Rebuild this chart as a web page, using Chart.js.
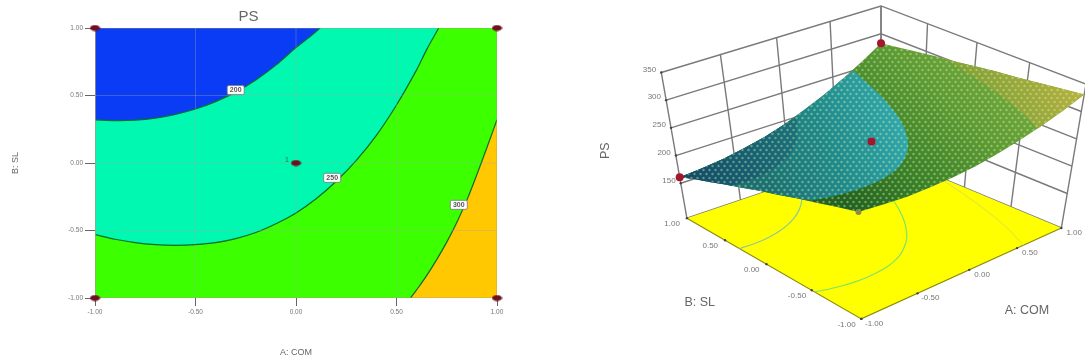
<!DOCTYPE html>
<html>
<head>
<meta charset="utf-8">
<title>PS</title>
<script src="https://cdn.jsdelivr.net/npm/chart.js@4/dist/chart.umd.min.js"></script>
<style>
  html, body { margin: 0; background: #fff; overflow: hidden; }
  canvas { position: absolute; top: 0; filter: blur(0.7px); }
  #contour { left: 0; }
  #surface { left: 540px; }
</style>
</head>
<body>
<canvas id="contour" width="540" height="363"></canvas>
<canvas id="surface" width="549" height="363"></canvas>
<script>
// contour lines (A: COM, B: SL)
const contour200A = [-1, -0.9, -0.8, -0.7, -0.6, -0.5, -0.4, -0.3, -0.2, -0.1, 0, 0.06, 0.12]
const contour200B = [0.32, 0.314, 0.317, 0.332, 0.36, 0.4, 0.455, 0.525, 0.615, 0.725, 0.855, 0.925, 1]
const contour250A = [-1, -0.9, -0.8, -0.7, -0.6, -0.5, -0.4, -0.3, -0.2, -0.1, 0, 0.1, 0.2, 0.3, 0.4, 0.5, 0.6, 0.65, 0.71]
const contour250B = [-0.53, -0.565, -0.59, -0.605, -0.61, -0.605, -0.59, -0.56, -0.515, -0.45, -0.37, -0.265, -0.135, 0.02, 0.205, 0.43, 0.69, 0.84, 1]
const contour300A = [0.57, 0.6, 0.65, 0.7, 0.75, 0.8, 0.85, 0.9, 0.95, 1]
const contour300B = [-1, -0.94, -0.834, -0.716, -0.586, -0.44, -0.275, -0.085, 0.115, 0.32]

const contourLabels = ['200', '250', '300']
const contourLabelA = [-0.3, 0.18, 0.81]
const contourLabelB = [0.54, -0.11, -0.31]

const designA = [-1, 1, -1, 1, 0]
const designB = [1, 1, -1, -1, 0]
const designPS = [161, 283, 276, 331, 235]

const axisTicks = [-1, -0.5, 0, 0.5, 1]
const psTicks = [150, 200, 250, 300, 350]

// PS surface, one row per B: SL value, one column per A: COM value
const gridA = [-1, -0.8, -0.6, -0.4, -0.2, 0, 0.2, 0.4, 0.6, 0.8, 1]
const gridB = [1, 0.8, 0.6, 0.4, 0.2, 0, -0.2, -0.4, -0.6, -0.8, -1]
const gridPS = [
    [161, 164, 168, 175, 183, 194, 208, 223, 241, 261, 283],
    [173, 174, 178, 184, 192, 203, 215, 230, 247, 267, 288],
    [184, 185, 188, 193, 201, 211, 223, 237, 253, 272, 293],
    [196, 196, 198, 203, 210, 219, 230, 244, 259, 277, 298],
    [207, 207, 209, 212, 218, 227, 237, 250, 265, 283, 302],
    [219, 218, 219, 222, 227, 235, 245, 257, 271, 288, 307],
    [230, 228, 229, 231, 236, 243, 252, 264, 278, 293, 312],
    [242, 239, 239, 241, 245, 251, 260, 271, 284, 299, 316],
    [253, 250, 249, 250, 254, 259, 267, 277, 290, 304, 321],
    [265, 261, 259, 260, 262, 267, 275, 284, 296, 310, 326],
    [276, 272, 269, 269, 271, 275, 282, 291, 302, 315, 331]
]

const toXY = (xs, ys) => xs.map((x, i) => ({x: x, y: ys[i]}))
const format2 = v => v.toFixed(2)

// ---------- left chart ----------

const polygon = (points, color, order) => ({
    data: points, showLine: true, fill: 'shape', backgroundColor: color,
    borderWidth: 0, pointRadius: 0, tension: 0, order: order
})
const contourLine = (xs, ys) => ({
    data: toXY(xs, ys), showLine: true, borderColor: '#0c6a32', borderWidth: 1.2,
    pointRadius: 0, tension: 0.3, order: 2
})
// grid lines as datasets so they sit over the colour bands but under the points
const gridLine = points => ({
    data: points, showLine: true, borderColor: 'rgba(160,170,160,0.35)',
    borderWidth: 1, pointRadius: 0, tension: 0, order: 1
})

const plotBox = [{x: -1, y: -1}, {x: 1, y: -1}, {x: 1, y: 1}, {x: -1, y: 1}]
const contour250Pts = toXY(contour250A, contour250B)
const contour200Pts = toXY(contour200A, contour200B)
const contour300Pts = toXY(contour300A, contour300B)

// design points look like flat ovals in the picture
const ovalPoint = document.createElement('canvas')
ovalPoint.width = 11; ovalPoint.height = 7
const ovalCtx = ovalPoint.getContext('2d')
ovalCtx.fillStyle = '#6e1020'
ovalCtx.beginPath()
ovalCtx.ellipse(5.5, 3.5, 5, 3, 0, 0, Math.PI * 2)
ovalCtx.fill()

const contourBoxes = {
    id: 'contourBoxes',
    afterDatasetsDraw(chart) {
        const ctx = chart.ctx
        const xs = chart.scales.x, ys = chart.scales.y
        ctx.save()
        ctx.font = 'bold 7px "Liberation Sans"'
        ctx.textAlign = 'center'
        ctx.textBaseline = 'middle'
        contourLabels.forEach((t, i) => {
            const px = xs.getPixelForValue(contourLabelA[i])
            const py = ys.getPixelForValue(contourLabelB[i])
            ctx.fillStyle = '#fff'
            ctx.strokeStyle = '#777'
            ctx.lineWidth = 0.8
            ctx.beginPath()
            ctx.roundRect(px - 8.5, py - 4.5, 17, 9, 1.5)
            ctx.fill()
            ctx.stroke()
            ctx.fillStyle = '#555'
            ctx.fillText(t, px, py)
        })
        ctx.fillStyle = '#2a6a3a'
        ctx.font = '7px "Liberation Sans"'
        ctx.fillText('1', xs.getPixelForValue(0) - 9, ys.getPixelForValue(0) - 3)
        ctx.restore()
    }
}

new Chart(document.getElementById('contour'), {
    type: 'scatter',
    data: {
        datasets: [
            {data: toXY(designA, designB), pointStyle: ovalPoint, clip: false, order: 0},
            {data: [...plotBox, plotBox[0]], showLine: true, borderColor: 'rgba(170,160,120,0.7)',
             borderWidth: 1, pointRadius: 0, tension: 0, order: 1},
            ...axisTicks.slice(1, 4).map(v => gridLine([{x: v, y: -1}, {x: v, y: 1}])),
            ...axisTicks.slice(1, 4).map(v => gridLine([{x: -1, y: v}, {x: 1, y: v}])),
            contourLine(contour200A, contour200B),
            contourLine(contour250A, contour250B),
            contourLine(contour300A, contour300B),
            polygon([...contour200Pts, {x: -1, y: 1}], '#0a3cf5', 3),
            polygon([...contour250Pts, {x: -1, y: 1}], '#00f8b0', 4),
            polygon([...contour300Pts, {x: 1, y: -1}], '#ffc800', 5),
            polygon(plotBox, '#3cff00', 6)
        ]
    },
    options: {
        responsive: false,
        animation: false,
        devicePixelRatio: 1,
        layout: {padding: {right: 43}},
        scales: {
            x: {
                min: -1, max: 1,
                afterFit: s => { s.height = 65 },
                afterBuildTicks: s => { s.ticks = axisTicks.map(v => ({value: v})) },
                ticks: {callback: format2, color: '#777', font: {size: 6.5, family: 'Liberation Sans'}, maxRotation: 0, padding: 2},
                grid: {drawOnChartArea: false, tickColor: '#666', tickLength: 8},
                border: {display: false},
                title: {display: true, text: 'A: COM', color: '#666', font: {size: 9, family: 'Liberation Sans'}, padding: {bottom: 5}}
            },
            y: {
                min: -1, max: 1,
                afterFit: s => { s.width = 95 },
                afterBuildTicks: s => { s.ticks = axisTicks.map(v => ({value: v})) },
                ticks: {callback: format2, color: '#777', font: {size: 6.5, family: 'Liberation Sans'}, padding: 2},
                grid: {drawOnChartArea: false, tickColor: '#666', tickLength: 10},
                border: {display: false},
                title: {display: true, text: 'B: SL', color: '#666', font: {size: 9, family: 'Liberation Sans'}, padding: {top: 10}}
            }
        },
        plugins: {
            legend: {display: false},
            tooltip: {enabled: false},
            title: {display: true, text: 'PS', color: '#666', font: {size: 15, weight: 'normal', family: 'Liberation Sans'}, padding: {top: 8, bottom: 2}}
        }
    },
    plugins: [contourBoxes]
})

// ---------- right chart: 3D view projected onto a page-sized scale ----------

const floorZ = 87
const topZ = 350
const quadMap = q => {
    const [x0, y0] = q[0], [x1, y1] = q[1], [x2, y2] = q[2], [x3, y3] = q[3]
    const dx1 = x1 - x2, dx2 = x3 - x2, sx = x0 - x1 + x2 - x3
    const dy1 = y1 - y2, dy2 = y3 - y2, sy = y0 - y1 + y2 - y3
    const det = dx1 * dy2 - dx2 * dy1
    const g = (sx * dy2 - dx2 * sy) / det, h = (dx1 * sy - sx * dy1) / det
    const a = x1 - x0 + g * x1, b = x3 - x0 + h * x3
    const d = y1 - y0 + g * y1, e = y3 - y0 + h * y3
    return (u, v) => {
        const w = g * u + h * v + 1
        return [(a * u + b * v + x0) / w, (d * u + e * v + y0) / w]
    }
}
// corners in order: A-1 B-1, A+1 B-1, A+1 B+1, A-1 B+1
const floorMap = quadMap([[862, 322], [1065, 229], [882, 152], [685, 219]])
const roofMap = quadMap([[858, 170], [1090, 82], [882, 2], [659, 70]])
const project = (a, b, z) => {
    const u = (a + 1) / 2, v = (b + 1) / 2, t = (z - floorZ) / (topZ - floorZ)
    const f = floorMap(u, v), r = roofMap(u, v)
    return {x: f[0] + (r[0] - f[0]) * t, y: f[1] + (r[1] - f[1]) * t}
}

const path3d = (triples, color, width, tension) => ({
    data: triples.map(p => project(p[0], p[1], p[2])), showLine: true,
    borderColor: color, borderWidth: width, pointRadius: 0, tension: tension || 0
})
const fill3d = (triples, color) => ({
    data: triples.map(p => project(p[0], p[1], p[2])), showLine: true, fill: 'shape',
    backgroundColor: color, borderWidth: 0, pointRadius: 0, tension: 0
})

const ctx3d = document.getElementById('surface').getContext('2d')
const gradient = (x0, y0, x1, y1, stops) => {
    const g = ctx3d.createLinearGradient(x0 - 540, y0, x1 - 540, y1)
    stops.forEach(s => g.addColorStop(s[0], s[1]))
    return g
}
const meshPattern = () => {
    const tile = document.createElement('canvas')
    tile.width = 6; tile.height = 8
    const t = tile.getContext('2d')
    t.fillStyle = 'rgba(225,245,190,0.42)'
    ;[[1.5, 2], [4.5, 6]].forEach(p => {
        t.beginPath()
        t.arc(p[0], p[1], 1.2, 0, Math.PI * 2)
        t.fill()
    })
    return ctx3d.createPattern(tile, 'repeat')
}

// edges of the surface, taken from the table
const lastA = gridA.length - 1, lastB = gridB.length - 1
const edgeLeft = gridB.map((b, j) => [gridA[0], b, gridPS[j][0]])          // B 1 -> -1 at A = -1
const edgeFront = gridA.map((a, i) => [a, gridB[lastB], gridPS[lastB][i]]) // A -1 -> 1 at B = -1
const edgeRight = gridB.map((b, j) => [gridA[lastA], b, gridPS[j][lastA]]) // B 1 -> -1 at A = 1
const edgeBack = gridA.map((a, i) => [a, gridB[0], gridPS[0][i]])          // A -1 -> 1 at B = 1
const outline = [...edgeLeft, ...edgeFront, ...[...edgeRight].reverse(), ...[...edgeBack].reverse()]

const level = (xs, ys, z) => xs.map((a, i) => [a, ys[i], z])

// region below a contour: the contour, then the back edge and the left edge back to its start
const belowContour = (xs, ys, z) => {
    const top = edgeBack.filter(p => p[0] < xs[xs.length - 1]).reverse()
    const left = edgeLeft.filter(p => p[1] > ys[0])
    return [...level(xs, ys, z), ...top, ...left.slice(1)]
}
const above300 = [...level(contour300A, contour300B, 300),
    ...edgeRight.filter(p => p[1] < contour300B[contour300B.length - 1]),
    ...[...edgeFront].reverse().filter(p => p[0] > contour300A[0])]

const wallLine = '#7a7a7a'
const datasets3d = []
psTicks.forEach(z => {
    datasets3d.push(path3d([[-1, 1, z], [1, 1, z], [1, -1, z]], wallLine, 1.4))
})
axisTicks.forEach(v => {
    datasets3d.push(path3d([[v, 1, floorZ], [v, 1, topZ]], wallLine, 1.4))
    datasets3d.push(path3d([[1, v, floorZ], [1, v, topZ]], wallLine, 1.4))
})
datasets3d.push(path3d([[-1, 1, floorZ], [1, 1, floorZ], [1, -1, floorZ]], wallLine, 1.4))
datasets3d.push(fill3d([[-1, -1, floorZ], [1, -1, floorZ], [1, 1, floorZ], [-1, 1, floorZ]], '#ffff00'))
datasets3d.push(path3d([[-1, 1, floorZ], [-1, -1, floorZ], [1, -1, floorZ]], '#8b8b10', 1.2))
datasets3d.push(path3d(level(contour200A, contour200B, floorZ), '#8fc89a', 1.2, 0.3))
datasets3d.push(path3d(level(contour250A, contour250B, floorZ), '#7ce36a', 1.2, 0.3))
datasets3d.push(path3d(level(contour300A, contour300B, floorZ), '#e6ea30', 1.2, 0.3))
// small tick marks along the floor edges and the PS axis
datasets3d.push({
    data: [...axisTicks.map(v => project(v, -1, floorZ)), ...axisTicks.map(v => project(-1, v, floorZ)),
           ...psTicks.map(z => project(-1, 1, z))],
    pointRadius: 1.2, pointBackgroundColor: '#444', pointBorderWidth: 0
})
// surface, colour bands painted from the highest band down
datasets3d.push(fill3d(outline, gradient(860, 215, 1000, 60, [[0, '#23621f'], [0.3, '#3a8028'], [0.7, '#5f9c34'], [1, '#74aa3c']])))
datasets3d.push(fill3d(above300, gradient(985, 160, 1088, 95, [[0, '#739c34'], [1, '#b8b240']])))
datasets3d.push(fill3d(belowContour(contour250A, contour250B, 250), gradient(760, 180, 905, 125, [[0, '#1b6f70'], [0.5, '#208a8a'], [1, '#30a8ac']])))
datasets3d.push(fill3d(belowContour(contour200A, contour200B, 200), gradient(680, 180, 790, 130, [[0, '#124a66'], [1, '#1b6f78']])))
datasets3d.push(fill3d(outline, meshPattern()))
datasets3d.push({
    data: designA.map((a, i) => project(a, designB[i], designPS[i])), clip: false,
    pointRadius: [4, 4, 3, 0, 4], pointBackgroundColor: ['#a3162c', '#a3162c', '#8a8a50', '#a3162c', '#a3162c'], pointBorderWidth: 0
})

const labels3d = {
    id: 'labels3d',
    afterDatasetsDraw(chart) {
        const ctx = chart.ctx
        const xs = chart.scales.x, ys = chart.scales.y
        const put = (text, p, dx, dy) => ctx.fillText(text, xs.getPixelForValue(p.x + dx), ys.getPixelForValue(p.y + dy))
        ctx.save()
        ctx.textAlign = 'center'
        ctx.textBaseline = 'middle'
        ctx.fillStyle = '#777'
        ctx.font = '8px "Liberation Sans"'
        psTicks.forEach(z => put(String(z), project(-1, 1, z), -12, -3))
        axisTicks.forEach(v => {
            put(format2(v), project(v, -1, floorZ), 13, 5)
            put(format2(v), project(-1, v, floorZ), -15, 6)
        })
        ctx.fillStyle = '#666'
        ctx.font = '12.5px "Liberation Sans"'
        put('B: SL', {x: 698, y: 305}, 0, 0)
        put('A: COM', {x: 1030, y: 313}, 0, 0)
        ctx.translate(xs.getPixelForValue(602), ys.getPixelForValue(150))
        ctx.rotate(-Math.PI / 2)
        ctx.fillText('PS', 0, 0)
        ctx.restore()
    }
}

new Chart(ctx3d, {
    type: 'scatter',
    data: {datasets: datasets3d.reverse()},
    options: {
        responsive: false,
        animation: false,
        devicePixelRatio: 1,
        layout: {padding: 0},
        scales: {
            x: {type: 'linear', min: 540, max: 1089, display: false},
            y: {type: 'linear', min: 0, max: 363, reverse: true, display: false}
        },
        plugins: {legend: {display: false}, tooltip: {enabled: false}}
    },
    plugins: [labels3d]
})
</script>
</body>
</html>
